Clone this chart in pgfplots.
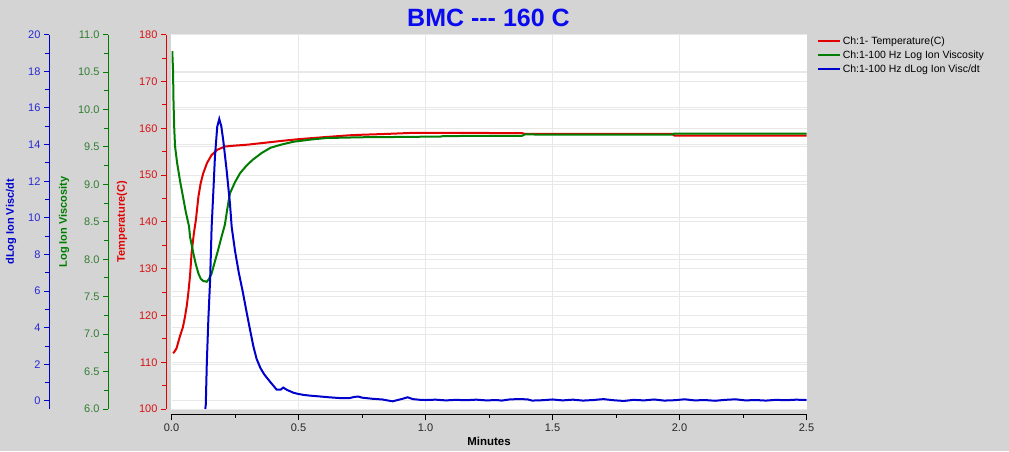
\documentclass[border=0pt]{standalone}
\usepackage{pgfplots}
\pgfplotsset{compat=1.18}
\usepackage{fontspec}
\setmainfont{Liberation Sans}
\definecolor{bg}{RGB}{212,212,212}
\definecolor{cred}{RGB}{225,0,0}
\definecolor{cgreen}{RGB}{0,125,0}
\definecolor{cblue}{RGB}{0,0,205}
\definecolor{tblue}{RGB}{10,10,240}
\definecolor{lred}{RGB}{215,20,20}
\definecolor{lgreen}{RGB}{50,125,50}
\definecolor{lblue}{RGB}{40,40,210}
\definecolor{gridc}{RGB}{232,232,232}

\pgfplotstableread{
x T
0.005 112.0
0.010 112.1
0.020 113.0
0.033 115.5
0.045 117.5
0.053 119.7
0.060 122.0
0.066 124.7
0.073 128.5
0.079 133.3
0.088 137.5
0.096 140.4
0.106 145.4
0.115 148.3
0.125 150.4
0.140 152.6
0.158 154.3
0.180 155.4
0.210 156.1
0.250 156.3
0.300 156.5
0.350 156.8
0.400 157.1
0.450 157.4
0.506 157.7
0.600 158.1
0.700 158.5
0.740 158.6
0.850 158.8
0.940 159.0
1.000 159.0
1.200 159.0
1.380 158.97
1.390 158.8
1.600 158.8
1.970 158.8
1.980 158.45
2.200 158.45
2.500 158.45
}\temp

\pgfplotstableread{
x V
0.003 10.78
0.006 10.53
0.008 10.09
0.011 9.73
0.014 9.51
0.022 9.29
0.033 9.06
0.045 8.84
0.057 8.62
0.069 8.44
0.073 8.30
0.086 8.08
0.096 7.93
0.106 7.81
0.115 7.74
0.125 7.71
0.139 7.70
0.148 7.74
0.158 7.81
0.170 7.96
0.184 8.13
0.197 8.30
0.210 8.46
0.220 8.68
0.230 8.88
0.250 9.03
0.270 9.15
0.295 9.25
0.320 9.33
0.355 9.42
0.390 9.49
0.430 9.53
0.480 9.57
0.550 9.60
0.610 9.62
0.750 9.63
0.930 9.635
1.060 9.64
1.070 9.646
1.380 9.65
1.390 9.667
1.970 9.665
1.980 9.68
2.500 9.68
}\visc

\pgfplotstableread{
x D
0.133 -0.44
0.135 -0.20
0.139 2.06
0.145 4.42
0.152 6.60
0.158 9.50
0.165 11.50
0.171 13.33
0.180 14.97
0.188 15.40
0.196 15.00
0.204 14.20
0.217 12.60
0.230 10.80
0.237 9.50
0.250 8.20
0.265 7.00
0.280 6.00
0.295 4.90
0.309 3.90
0.322 3.00
0.335 2.30
0.350 1.80
0.365 1.45
0.388 1.05
0.414 0.62
0.430 0.62
0.440 0.73
0.455 0.60
0.480 0.45
0.500 0.38
0.520 0.33
0.545 0.29
0.580 0.25
0.620 0.20
0.660 0.16
0.700 0.15
0.720 0.22
0.735 0.24
0.750 0.18
0.790 0.12
0.830 0.08
0.870 -0.02
0.890 0.05
0.910 0.12
0.930 0.20
0.950 0.10
0.980 0.06
1.000 0.05
1.040 0.07
1.080 0.03
1.120 0.06
1.160 0.04
1.200 0.07
1.240 0.03
1.280 0.05
1.300 0.02
1.330 0.08
1.360 0.10
1.400 0.09
1.420 0.02
1.460 0.04
1.500 0.08
1.540 0.03
1.580 0.07
1.620 0.02
1.660 0.05
1.700 0.10
1.740 0.04
1.780 0.00
1.820 0.06
1.860 0.03
1.900 0.08
1.940 0.02
1.980 0.04
2.020 0.09
2.060 0.03
2.100 0.05
2.140 0.01
2.180 0.06
2.220 0.09
2.260 0.03
2.300 0.05
2.340 0.02
2.380 0.06
2.420 0.04
2.460 0.07
2.500 0.05
}\dvisc

\pgfplotsset{
  base/.style={scale only axis, width=635pt, height=374.3pt, anchor=south west,
    /pgf/number format/assume math mode=true,
    ticklabel style={font=\fontsize{11}{13}\selectfont}},
  hidden/.style={base, at={(171.5pt,42pt)}, xmin=0, xmax=2.5,
    axis line style={draw=none}, major tick length=0pt, minor tick length=0pt,
    xticklabels={}, yticklabels={},
    grid style={draw=gridc, line width=1pt}},
  decoy/.style={base, xmin=0, xmax=1, axis x line=none, axis y line*=left,
    tick align=outside, major tick length=5pt, minor tick length=4pt,
    y axis line style={-, line width=1pt}},
}

\begin{document}
\begin{tikzpicture}[x=1pt,y=1pt]
\fill[bg] (0,0) rectangle (1009,451);
\fill[white] (171,41) rectangle (807,417);
\node[font=\fontsize{25}{29}\selectfont\bfseries, text=tblue] at (488.5,433) {BMC -{}-{}- 160 C};

% grids
\begin{axis}[hidden, ymin=100, ymax=180, ytick={100,110,120,130,140,150,160,170,180},
  xtick={0.5,1,1.5,2}, xmajorgrids, ymajorgrids]
\end{axis}
\begin{axis}[hidden, ymin=6, ymax=11, ytick={6,6.5,7,7.5,8,8.5,9,9.5,10,10.5,11},
  xtick=\empty, ymajorgrids]
\end{axis}
\begin{axis}[hidden, ymin=-0.44, ymax=20, ytick={0,2,4,6,8,10,12,14,16,18,20},
  xtick=\empty, ymajorgrids]
\end{axis}

% data
\begin{axis}[hidden, ymin=100, ymax=180, xtick=\empty, ytick=\empty]
\addplot[cred, line width=2pt] table[x=x, y=T] {\temp};
\end{axis}
\begin{axis}[hidden, ymin=6, ymax=11, xtick=\empty, ytick=\empty]
\addplot[cgreen, line width=2pt] table[x=x, y=V] {\visc};
\end{axis}
\begin{axis}[hidden, ymin=-0.44, ymax=20, xtick=\empty, ytick=\empty,
  legend style={at={(1.0165,0.999)}, anchor=north west, draw=none, fill=none,
    font=\fontsize{10.5}{12}\selectfont, row sep=1.6pt, inner sep=0pt,
    nodes={inner sep=1.6pt}},
  legend cell align=left,
  legend image code/.code={\draw[#1] (0pt,0pt) -- (22pt,0pt);}]
\addlegendimage{cred, line width=2pt}
\addlegendentry{Ch:1- Temperature(C)}
\addlegendimage{cgreen, line width=2pt}
\addlegendentry{Ch:1-100 Hz Log Ion Viscosity}
\addplot[cblue, line width=2pt] table[x=x, y=D] {\dvisc};
\addlegendentry{Ch:1-100 Hz dLog Ion Visc/dt}
\end{axis}

% y axes decoration
\begin{axis}[decoy, at={(166pt,42pt)}, ymin=100, ymax=180,
  ytick={100,110,120,130,140,150,160,170,180}, minor ytick={105,115,125,135,145,155,165,175},
  y axis line style={draw=cred}, every y tick/.style={draw=cred, line width=1pt},
  every minor y tick/.style={draw=cred, line width=1pt},
  yticklabel style={text=lred},
  ylabel={Temperature(C)},
  every axis y label/.style={at={(axis description cs:-0.0693,0.5)}, rotate=90, anchor=center,
    font=\fontsize{11}{13}\selectfont\bfseries, text=cred}]
\end{axis}
\begin{axis}[decoy, at={(108pt,42pt)}, ymin=6, ymax=11,
  ytick={6,6.5,7,7.5,8,8.5,9,9.5,10,10.5,11},
  minor ytick={6.25,6.75,7.25,7.75,8.25,8.75,9.25,9.75,10.25,10.75},
  y axis line style={draw=cgreen}, every y tick/.style={draw=cgreen, line width=1pt},
  every minor y tick/.style={draw=cgreen, line width=1pt},
  yticklabel style={text=lgreen, /pgf/number format/.cd, fixed, fixed zerofill, precision=1},
  ylabel={Log Ion Viscosity},
  every axis y label/.style={at={(axis description cs:-0.0693,0.5)}, rotate=90, anchor=center,
    font=\fontsize{11}{13}\selectfont\bfseries, text=cgreen}]
\end{axis}
\begin{axis}[decoy, at={(49pt,42pt)}, ymin=-0.44, ymax=20,
  ytick={0,2,4,6,8,10,12,14,16,18,20}, minor ytick={1,3,5,7,9,11,13,15,17,19},
  y axis line style={draw=cblue}, every y tick/.style={draw=cblue, line width=1pt},
  every minor y tick/.style={draw=cblue, line width=1pt},
  yticklabel style={text=lblue},
  ylabel={dLog Ion Visc/dt},
  every axis y label/.style={at={(axis description cs:-0.0598,0.5)}, rotate=90, anchor=center,
    font=\fontsize{11}{13}\selectfont\bfseries, text=cblue}]
\end{axis}

% x axis decoration
\begin{axis}[base, at={(171.5pt,36.7pt)}, xmin=0, xmax=2.5, ymin=0, ymax=1,
  axis y line=none, axis x line*=bottom, x axis line style={-, line width=1pt, draw=black},
  tick align=outside, major tick length=6pt, minor tick length=3.5pt,
  every x tick/.style={draw=black, line width=1pt},
  every minor x tick/.style={draw=black, line width=1pt},
  xtick={0,0.5,1,1.5,2,2.5}, minor xtick={0.25,0.75,1.25,1.75,2.25},
  xticklabel style={text=black!85, /pgf/number format/.cd, fixed, fixed zerofill, precision=1},
  xlabel={Minutes},
  every axis x label/.style={at={(axis description cs:0.5,0)}, yshift=-26.7pt, anchor=center,
    font=\fontsize{11.5}{13}\selectfont\bfseries, text=black}]
\end{axis}

\pgfresetboundingbox
\useasboundingbox (0,0) rectangle (1009,451);
\end{tikzpicture}
\end{document}
